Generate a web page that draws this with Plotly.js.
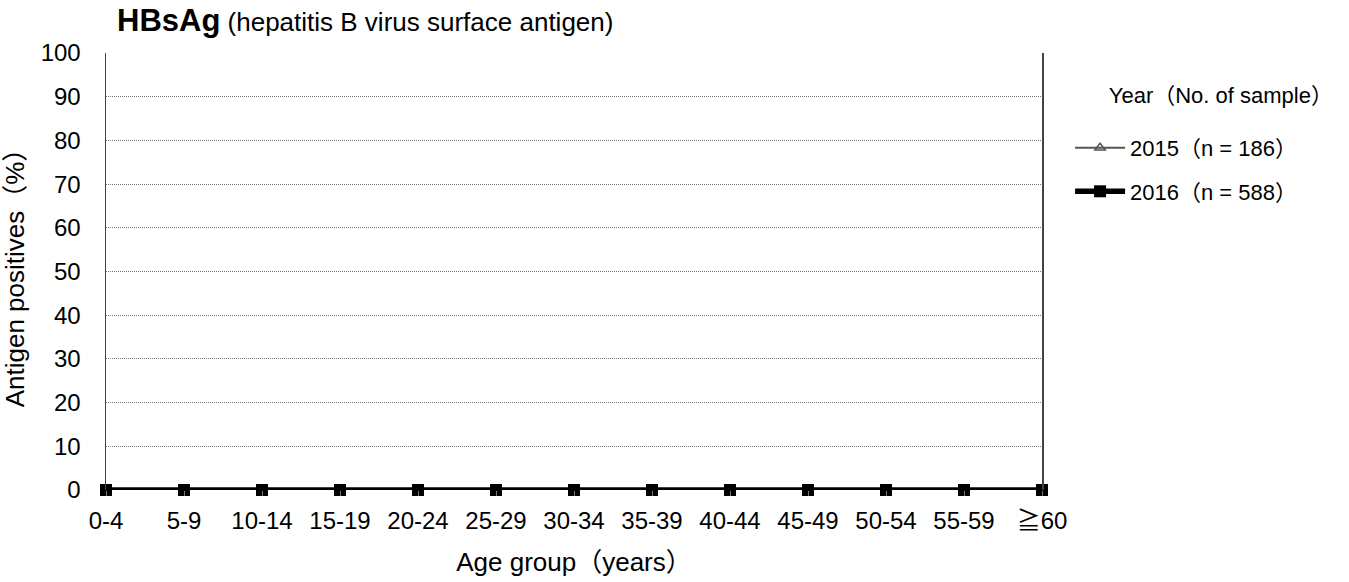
<!DOCTYPE html>
<html>
<head>
<meta charset="utf-8">
<script src="https://cdn.plot.ly/plotly-3.0.1.min.js"></script>
<style>html,body{margin:0;padding:0;background:#fff;}#chart{width:1349px;height:582px;}</style>
</head>
<body>
<div id="chart"></div>
<script>
const ageGroups = ["0-4","5-9","10-14","15-19","20-24","25-29","30-34","35-39","40-44","45-49","50-54","55-59","≧60"];
const values2015 = [0,0,0,0,0,0,0,0,0,0,0,0,0];
const values2016 = [0,0,0,0,0,0,0,0,0,0,0,0,0];
const seriesNames = ["2015（n = 186）","2016（n = 588）"];

const FONT = "Liberation Sans, Arial, Noto Sans CJK JP, sans-serif";

const traces = [
  {
    x: ageGroups, y: values2015, name: seriesNames[0], type: "scatter", mode: "lines+markers",
    legendgroup: "a",
    line: {color: "#555", width: 2},
    marker: {symbol: "triangle-up-open", size: 9, color: "#555", line: {width: 1.5, color: "#555"}},
    cliponaxis: false
  },
  {
    x: ageGroups, y: values2016, name: seriesNames[1], type: "scatter", mode: "lines+markers",
    legendgroup: "b",
    line: {color: "#000", width: 5.5},
    marker: {symbol: "square", size: 12, color: "#000"},
    cliponaxis: false
  }
];

const layout = {
  width: 1349, height: 582,
  margin: {l: 106, r: 307, t: 53, b: 92},
  paper_bgcolor: "#fff", plot_bgcolor: "#fff",
  font: {family: FONT, size: 24, color: "#000"},
  title: {
    text: "<b>HBsAg</b><span style='font-size:26px'> (hepatitis B virus surface antigen)</span>",
    font: {family: FONT, size: 31, color: "#000"},
    xref: "container", yref: "container",
    x: 117/1349, xanchor: "left", y: 1 - 20/582, yanchor: "middle"
  },
  xaxis: {
    type: "category",
    range: [0, 12],
    showgrid: false,
    zeroline: false,
    showline: false,
    ticks: "outside", ticklen: 5, tickcolor: "#777", tickwidth: 1,
    tickfont: {size: 24, family: FONT},
    ticklabelstandoff: 4,
    title: {text: "\u00a0\u00a0Age group（years）", font: {size: 26, family: FONT}, standoff: 20},
    automargin: false
  },
  yaxis: {
    range: [0, 100], dtick: 10,
    showgrid: true, gridcolor: "#777", griddash: "1px,1px", gridwidth: 1,
    zeroline: false,
    showline: true, linecolor: "#444", linewidth: 1.5, mirror: true,
    ticks: "outside", ticklen: 19, tickcolor: "rgba(0,0,0,0)",
    tickfont: {size: 24, family: FONT},
    title: {text: "Antigen positives（%）", font: {size: 26, family: FONT}, standoff: 8},
    automargin: false
  },
  showlegend: true,
  legend: {
    x: 1.03, xanchor: "left", y: 0.938, yanchor: "top",
    title: {
      text: "<span style='font-size:22px'>\u00a0\u00a0\u00a0\u00a0\u00a0\u00a0Year（No. of sample）</span><br> ",
      font: {size: 18, family: FONT}, side: "top"
    },
    font: {size: 22, family: FONT},
    bgcolor: "rgba(0,0,0,0)",
    tracegroupgap: 12,
    itemwidth: 50
  }
};

Plotly.newPlot("chart", traces, layout, {displayModeBar: false, staticPlot: true});
</script>
</body>
</html>
